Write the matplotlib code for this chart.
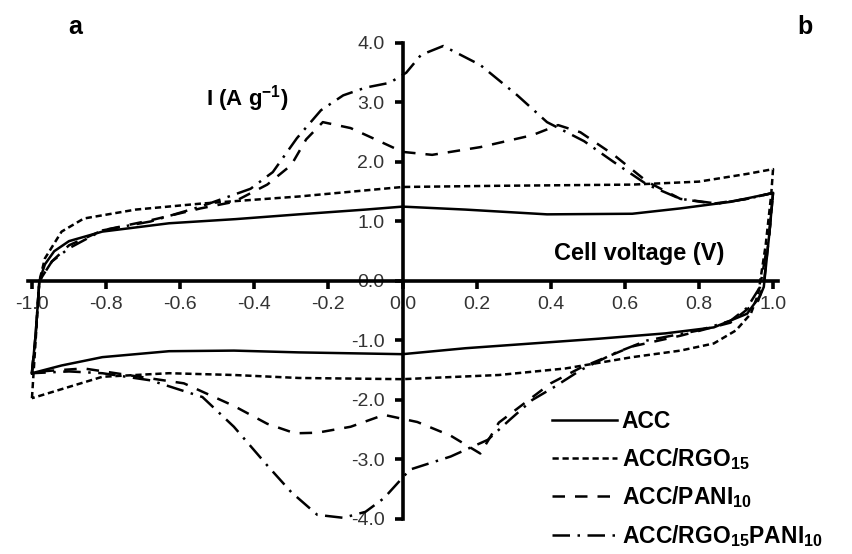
import matplotlib
matplotlib.use('Agg')
import matplotlib.pyplot as plt
import numpy as np

plt.rcParams['font.family'] = ['Liberation Sans', 'DejaVu Sans']
plt.rcParams['mathtext.fontset'] = 'custom'
plt.rcParams['mathtext.bf'] = 'Liberation Sans:bold'
plt.rcParams['mathtext.rm'] = 'Liberation Sans:bold'
plt.rcParams['mathtext.default'] = 'bf'

# ---- CV data: anodic sweep (-1 -> 1), then cathodic sweep (1 -> -1) ----
acc_up_v = [-1.0, -0.99, -0.98, -0.965, -0.94, -0.9, -0.81, -0.63, -0.45, -0.28, -0.1, 0.0,
            0.17, 0.39, 0.62, 0.75, 0.885, 1.0]
acc_up_i = [-1.55, -0.9, 0.0, 0.28, 0.5, 0.67, 0.83, 0.97, 1.04, 1.12, 1.2, 1.25,
            1.2, 1.12, 1.13, 1.22, 1.33, 1.48]
acc_dn_v = [1.0, 0.99, 0.975, 0.965, 0.93, 0.84, 0.71, 0.53, 0.35, 0.17, 0.0, -0.28,
            -0.455, -0.63, -0.81, -0.92, -1.0]
acc_dn_i = [1.48, 0.8, -0.1, -0.25, -0.55, -0.78, -0.88, -0.97, -1.05, -1.13, -1.23, -1.2,
            -1.17, -1.18, -1.28, -1.42, -1.55]

rgo_up_v = [-1.0, -0.99, -0.98, -0.965, -0.92, -0.86, -0.72, -0.545, -0.28, 0.0, 0.26, 0.62,
            0.8, 0.93, 1.0]
rgo_up_i = [-1.97, -1.0, 0.0, 0.38, 0.83, 1.05, 1.2, 1.3, 1.42, 1.58, 1.6, 1.62,
            1.67, 1.8, 1.88]
rgo_dn_v = [1.0, 0.995, 0.98, 0.96, 0.94, 0.9, 0.84, 0.75, 0.62, 0.44, 0.26, 0.0,
            -0.28, -0.455, -0.63, -0.81, -0.9, -1.0]
rgo_dn_i = [1.88, 1.45, 0.6, -0.22, -0.55, -0.83, -1.05, -1.17, -1.28, -1.47, -1.58, -1.65,
            -1.63, -1.58, -1.55, -1.61, -1.78, -1.97]

pani_up_v = [-1.0, -0.99, -0.98, -0.946, -0.9, -0.81, -0.68, -0.545, -0.455, -0.365, -0.3,
             -0.26, -0.215, -0.14, -0.08, 0.0, 0.08, 0.21, 0.35, 0.42, 0.48, 0.57, 0.66,
             0.75, 0.84, 0.93, 1.0]
pani_up_i = [-1.53, -0.9, 0.0, 0.33, 0.6, 0.85, 1.02, 1.22, 1.33, 1.62, 1.95,
             2.38, 2.67, 2.57, 2.4, 2.17, 2.12, 2.25, 2.45, 2.62, 2.5, 2.12, 1.67,
             1.38, 1.3, 1.38, 1.48]
pani_dn_v = [1.0, 0.99, 0.975, 0.96, 0.885, 0.75, 0.62, 0.48, 0.4, 0.33, 0.26, 0.21, 0.13,
             0.04, -0.05, -0.14, -0.23, -0.29, -0.365, -0.455, -0.59, -0.72, -0.86, -1.0]
pani_dn_i = [1.48, 0.8, -0.05, -0.33, -0.7, -0.92, -1.1, -1.46, -1.72, -2.05, -2.38, -2.9, -2.6,
             -2.37, -2.25, -2.45, -2.55, -2.56, -2.4, -2.1, -1.72, -1.6, -1.47, -1.53]

mix_up_v = [-1.0, -0.99, -0.98, -0.946, -0.9, -0.81, -0.68, -0.545, -0.41, -0.35, -0.285,
            -0.22, -0.16, -0.1, -0.035, 0.01, 0.05, 0.11, 0.21, 0.31, 0.39, 0.49, 0.57,
            0.66, 0.75, 0.85, 0.93, 1.0]
mix_up_i = [-1.55, -0.9, 0.0, 0.33, 0.55, 0.85, 1.0, 1.25, 1.55, 1.83, 2.4,
            2.87, 3.12, 3.25, 3.33, 3.5, 3.8, 3.95, 3.63, 3.12, 2.67, 2.35, 2.0,
            1.62, 1.38, 1.3, 1.38, 1.48]
mix_dn_v = [1.0, 0.99, 0.965, 0.93, 0.885, 0.8, 0.66, 0.57, 0.48, 0.41, 0.35, 0.29, 0.23,
            0.13, 0.02, -0.05, -0.1, -0.16, -0.23, -0.3, -0.365, -0.455, -0.54, -0.68,
            -0.81, -0.9, -1.0]
mix_dn_i = [1.48, 0.8, -0.1, -0.45, -0.67, -0.83, -1.0, -1.22, -1.5, -1.78, -2.0, -2.33, -2.67,
            -2.95, -3.17, -3.65, -3.88, -3.98, -3.93, -3.55, -3.1, -2.45, -1.95, -1.67,
            -1.55, -1.52, -1.55]

x_ticks = [-1.0, -0.8, -0.6, -0.4, -0.2, 0.0, 0.2, 0.4, 0.6, 0.8, 1.0]
y_ticks = [-4.0, -3.0, -2.0, -1.0, 0.0, 1.0, 2.0, 3.0, 4.0]

series = [
    ('ACC', acc_up_v + acc_dn_v, acc_up_i + acc_dn_i, '-'),
    ('ACC/RGO$_{15}$', rgo_up_v + rgo_dn_v, rgo_up_i + rgo_dn_i, (0, (2.5, 1.5))),
    ('ACC/PANI$_{10}$', pani_up_v + pani_dn_v, pani_up_i + pani_dn_i, (0, (5, 4))),
    ('ACC/RGO$_{15}$PANI$_{10}$', mix_up_v + mix_dn_v, mix_up_i + mix_dn_i, (0, (7, 3, 1, 3))),
]

fig = plt.figure(figsize=(8.53, 5.54), dpi=100)
# x span slightly wider than the ticks so the axis line runs past +-1.0
ax = fig.add_axes([27.5 / 853, 0.0632, 750 / 853, 0.8592])

for label, v, i, ls in series:
    ax.plot(v, i, color='black', linestyle=ls, linewidth=1.8, label=label, clip_on=False)

ax.set_xlim(-1.012, 1.012)
ax.set_ylim(-4.0, 4.0)

# axes crossing at the origin
ax.spines['left'].set_position(('data', 0))
ax.spines['bottom'].set_position(('data', 0))
ax.spines['top'].set_visible(False)
ax.spines['right'].set_visible(False)
for s in ('left', 'bottom'):
    ax.spines[s].set_linewidth(2.6)
    ax.spines[s].set_zorder(3)

ax.set_xticks(x_ticks)
ax.set_yticks(y_ticks)
ax.set_xticklabels([f'{t:.1f}' for t in x_ticks])
ax.set_yticklabels([f'{t:.1f}' for t in y_ticks])
ax.tick_params(direction='out', length=6, width=2.6, labelsize=14,
               labelcolor='#333333', color='black')
ax.tick_params(axis='x', pad=5)
ax.tick_params(axis='y', pad=7)
ax.patch.set_alpha(0)

fig.text(0.088, 0.952, 'a', fontsize=18, fontweight='bold', ha='center', va='center')
fig.text(0.944, 0.952, 'b', fontsize=18, fontweight='bold', ha='center', va='center')
fig.text(0.29, 0.823, 'I (A g$^{-1}$)', fontsize=16, fontweight='bold', ha='center', va='center')
fig.text(0.749, 0.543, 'Cell voltage (V)', fontsize=17, fontweight='bold', ha='center', va='center')

leg = ax.legend(loc='upper left', bbox_to_anchor=(552 / 853, 1 - 410 / 554),
                bbox_transform=fig.transFigure, frameon=False, fontsize=16.5,
                handlelength=2.85, handletextpad=0.2, labelspacing=0.55,
                borderaxespad=0, borderpad=0)
for t in leg.get_texts():
    t.set_fontweight('bold')

fig.savefig('out.png', dpi=100, facecolor='white')
